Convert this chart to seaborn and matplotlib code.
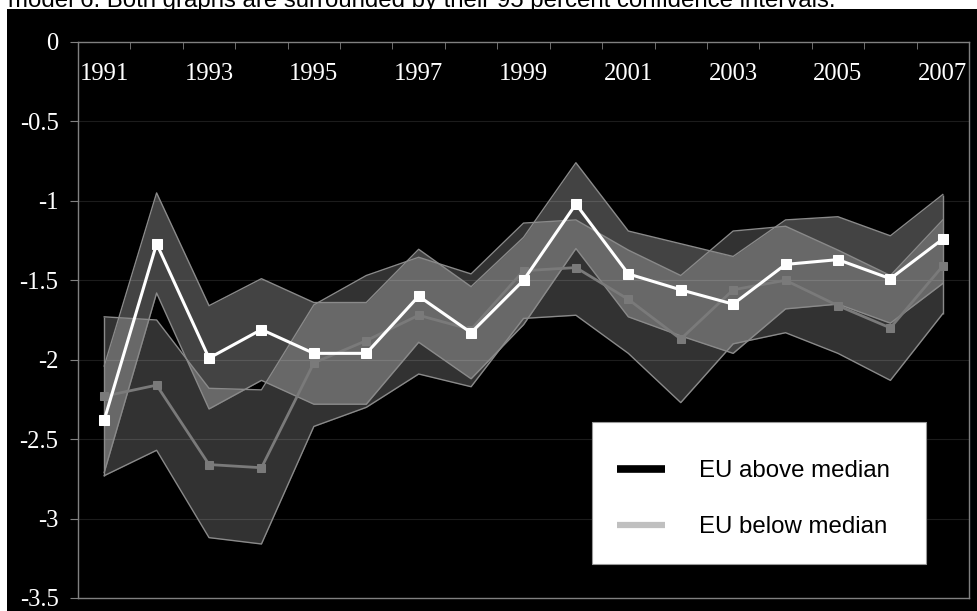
import matplotlib
matplotlib.use("Agg")
import numpy as np
import pandas as pd
import matplotlib.pyplot as plt
import seaborn as sns
from matplotlib.lines import Line2D
from matplotlib.patches import Rectangle

# --------------------------------------------------------------
# Data
# --------------------------------------------------------------
years = list(range(1991, 2008))

above_mean = [-2.38, -1.27, -1.99, -1.81, -1.96, -1.96, -1.60, -1.83, -1.50,
              -1.02, -1.46, -1.56, -1.65, -1.40, -1.37, -1.49, -1.24]
above_hi = [-2.04, -0.95, -1.66, -1.49, -1.64, -1.64, -1.305, -1.54, -1.23,
            -0.76, -1.19, -1.27, -1.35, -1.12, -1.10, -1.22, -0.96]
above_lo = [-2.71, -1.58, -2.31, -2.13, -2.28, -2.28, -1.89, -2.12, -1.78,
            -1.30, -1.73, -1.85, -1.96, -1.68, -1.65, -1.77, -1.52]

below_mean = [-2.23, -2.16, -2.66, -2.68, -2.02, -1.88, -1.72, -1.81, -1.44,
              -1.42, -1.62, -1.87, -1.56, -1.50, -1.66, -1.80, -1.41]
below_hi = [-1.73, -1.75, -2.18, -2.19, -1.655, -1.47, -1.355, -1.46, -1.14,
            -1.12, -1.31, -1.47, -1.19, -1.16, -1.31, -1.47, -1.12]
below_lo = [-2.73, -2.57, -3.12, -3.16, -2.42, -2.30, -2.09, -2.17, -1.74,
            -1.72, -1.96, -2.27, -1.90, -1.83, -1.96, -2.13, -1.71]

year_ticks = list(range(1991, 2008, 2))
year_labels = [str(y) for y in year_ticks]
y_ticks = [0, -0.5, -1, -1.5, -2, -2.5, -3, -3.5]
y_labels = ["0", "-0.5", "-1", "-1.5", "-2", "-2.5", "-3", "-3.5"]
series_names = ["EU above median", "EU below median"]
caption = "model 6. Both graphs are surrounded by their 95 percent confidence intervals."

df = pd.DataFrame({"year": years, "above": above_mean, "below": below_mean})

# --------------------------------------------------------------
# Figure
# --------------------------------------------------------------
W, H = 977, 611
fig = plt.figure(figsize=(W / 100, H / 100), dpi=100)
fig.patch.set_facecolor("white")
fig.patches.append(Rectangle((7 / W, 0), 1 - 7 / W, 1 - 9 / H,
                             transform=fig.transFigure, facecolor="black",
                             edgecolor="none", zorder=-10))
# the caption is cut off by the top edge, as in the source
fig.text(8 / W, 1 - 6.7 / H, caption, fontsize=17.3, color="black",
         family="Liberation Sans", va="baseline", ha="left", zorder=-5)

# axes box: x 78..969 px, y 42..598 px
ax = fig.add_axes([78 / W, 13 / H, 891 / W, 556 / H])
ax.set_facecolor("black")

# faint grid
for yv in y_ticks[1:-1]:
    ax.axhline(yv, color="#1c1c1c", lw=0.8, zorder=1)

# confidence bands
ax.fill_between(years, below_lo, below_hi, color="white", alpha=0.2, lw=0, zorder=2)
ax.fill_between(years, above_lo, above_hi, color="white", alpha=0.267, lw=0, zorder=2)
for band in [below_lo, below_hi, above_lo, above_hi]:
    ax.plot(years, band, color="#8a8a8a", lw=1.0, zorder=3)
ax.vlines([years[0], years[-1]], [min(below_lo[0], above_lo[0]), min(below_lo[-1], above_lo[-1])],
          [max(below_hi[0], above_hi[0]), max(below_hi[-1], above_hi[-1])],
          color="#8a8a8a", lw=1.0, zorder=3)

# point estimates
sns.lineplot(data=df, x="year", y="below", ax=ax, color="#7a7a7a", lw=2,
             marker="s", markersize=6, markeredgecolor="#7a7a7a", zorder=4)
sns.lineplot(data=df, x="year", y="above", ax=ax, color="white", lw=2.2,
             marker="s", markersize=6.5, markeredgecolor="white", zorder=5)

ax.set_xlim(1990.5, 2007.5)
ax.set_ylim(-3.5, 0)
ax.set_xlabel("")
ax.set_ylabel("")

for s in ax.spines.values():
    s.set_color("#808080")
    s.set_linewidth(1.0)

ax.set_yticks(y_ticks, labels=y_labels)
ax.tick_params(axis="y", direction="out", length=6, color="#808080", pad=8,
               labelsize=17.7, labelcolor="white")
for lab in ax.get_yticklabels():
    lab.set_family("Liberation Serif")

ax.xaxis.tick_top()
ax.set_xticks(year_ticks, labels=year_labels)
ax.set_xticks(np.arange(1991.5, 2007.5, 1), minor=True)
ax.tick_params(axis="x", which="major", length=0, pad=-31,
               labelsize=17.7, labelcolor="white")
ax.tick_params(axis="x", which="minor", direction="in", length=5,
               color="#808080", top=True, bottom=False)
for lab in ax.get_xticklabels():
    lab.set_family("Liberation Serif")

# legend: white box drawn separately, frameless legend inside it
def px_to_ax(px, py):
    return (px - 78) / 891, (598 - py) / 556

bx0, by0 = px_to_ax(592, 564)
bx1, by1 = px_to_ax(926, 422)
ax.add_patch(Rectangle((bx0, by0), bx1 - bx0, by1 - by0, transform=ax.transAxes,
                       facecolor="white", edgecolor="#999999", lw=0.8, zorder=6))

handles = [Line2D([], [], color="black", lw=5.5, solid_capstyle="butt"),
           Line2D([], [], color="#c0c0c0", lw=4.5, solid_capstyle="butt")]
lx, ly = px_to_ax(617, 499)
leg = ax.legend(handles, series_names, loc="center left", bbox_to_anchor=(lx, ly),
                borderaxespad=0, borderpad=0, frameon=False,
                prop={"family": "Liberation Sans", "size": 17.3},
                labelspacing=1.42, handlelength=2.0, handletextpad=1.42)
leg.set_zorder(7)

fig.savefig("out.png", dpi=100, facecolor=fig.get_facecolor())
